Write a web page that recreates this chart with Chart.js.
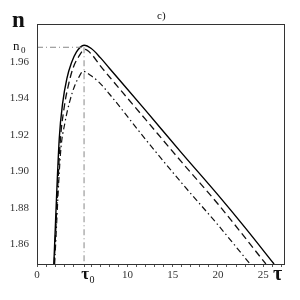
<!DOCTYPE html>
<html>
<head>
  <title>n(tau)</title>
  <script src="https://cdn.jsdelivr.net/npm/chart.js@4"></script>
  <style>
    body{margin:0;background:#fff}
  </style>
</head>
<body>
<canvas id="chart" width="300" height="300"></canvas>

<script>
// values
var tau0 = 5.2, n0 = 1.9682
var solidTau = [1.86,2.46,2.85,3.3,3.8,4.35,5.2,6.0,7.0,8.0,12,16,20,23,26.2]
var solidN   = [1.849,1.918,1.938,1.951,1.9595,1.9655,1.9693,1.9675,1.9625,1.9567,1.9335,1.910,1.887,1.869,1.849]
var dashTau  = [1.9,2.55,3.0,3.5,4.0,4.6,5.3,6.0,7.0,8.0,12,16,20,25.3]
var dashN    = [1.849,1.915,1.935,1.948,1.957,1.963,1.967,1.9645,1.958,1.952,1.9285,1.905,1.882,1.849]
var dotTau   = [1.95,2.6,3.1,3.65,4.2,4.6,5.1,5.9,6.8,8,12,16,20,23.55]
var dotN     = [1.849,1.910,1.927,1.939,1.9475,1.9515,1.955,1.9528,1.9492,1.9425,1.9175,1.8935,1.8705,1.849]
var yTicks = [1.86,1.88,1.90,1.92,1.94,1.96]
var xLabels = [0,10,15,20,25]
var xMin = 0, xMax = 27.3, yMin = 1.849, yMax = 1.981

function pts(xs, ys){
  var out = []
  for(i=0;i<xs.length;i++){ out.push({x:xs[i], y:ys[i]}) }
  return out
}

var serif = "'Liberation Serif', 'DejaVu Serif', serif"

// draws box, subscripted labels, axis names and panel letter
var extras = {
  id: "extras",
  afterDraw: function(chart){
    var ctx = chart.ctx, a = chart.chartArea
    var xs = chart.scales.x, ys = chart.scales.y
    ctx.save()
    ctx.strokeStyle = "#333"
    ctx.lineWidth = 1
    ctx.strokeRect(a.left+0.5, a.top+0.5, a.right-a.left, a.bottom-a.top)
    ctx.fillStyle = "#111"
    ctx.textBaseline = "alphabetic"
    // n0 on y axis
    var yy = ys.getPixelForValue(n0)
    ctx.font = "13px " + serif
    ctx.textAlign = "left"
    ctx.fillText("n", 13, yy+3)
    ctx.font = "9px " + serif
    ctx.fillText("0", 21, yy+6)
    // tau0 on x axis
    var xx = xs.getPixelForValue(tau0)
    ctx.font = "bold 17px " + serif
    ctx.textAlign = "center"
    ctx.fillText("\u03c4", xx+1, a.bottom+15)
    ctx.font = "10px " + serif
    ctx.fillText("0", xx+8, a.bottom+19)
    // axis names
    ctx.font = "bold 23px " + serif
    ctx.textAlign = "left"
    ctx.fillText("n", 12, 27)
    ctx.font = "bold 20px " + serif
    ctx.fillText("\u03c4", 273, a.bottom+16)
    // panel letter
    ctx.font = "11px " + serif
    ctx.fillText("c)", 157, 19)
    ctx.restore()
  }
}

var guide = {borderColor:"#888", borderWidth:1, borderDash:[6,3,1,3], pointRadius:0, tension:0}

var chart = new Chart(document.getElementById("chart").getContext("2d"), {
  type: "line",
  data: {
    datasets: [
      Object.assign({data: [{x:xMin,y:n0},{x:tau0,y:n0}]}, guide),
      Object.assign({data: [{x:tau0,y:n0},{x:tau0,y:yMin}]}, guide),
      {data: pts(solidTau, solidN), borderColor:"#000", borderWidth:1.4, pointRadius:0, cubicInterpolationMode:"monotone"},
      {data: pts(dashTau, dashN), borderColor:"#111", borderWidth:1.3, borderDash:[7,4], pointRadius:0, cubicInterpolationMode:"monotone"},
      {data: pts(dotTau, dotN), borderColor:"#111", borderWidth:1.2, borderDash:[6,3,1.5,3], pointRadius:0, cubicInterpolationMode:"monotone"}
    ]
  },
  options: {
    responsive: false,
    animation: false,
    parsing: false,
    layout: {padding: {top:24, right:16, left:0, bottom:0}},
    plugins: {legend:{display:false}, tooltip:{enabled:false}},
    scales: {
      x: {
        type: "linear", min: xMin, max: xMax,
        border: {display:false},
        grid: {drawOnChartArea:false, tickLength:3, color:"#555"},
        afterBuildTicks: function(s){
          var t = []
          for(k=0;k<=27;k++){ if(k!=5) t.push({value:k}) }
          t.push({value:tau0})
          s.ticks = t
        },
        afterFit: function(s){ s.height = 36 },
        ticks: {
          autoSkip:false, maxRotation:0, padding:2, color:"#333",
          font:{family:serif, size:11},
          callback: function(v){ return xLabels.indexOf(v) >= 0 ? String(v) : "" }
        }
      },
      y: {
        type: "linear", min: yMin, max: yMax,
        border: {display:false},
        grid: {drawOnChartArea:false, tickLength:0},
        afterBuildTicks: function(s){
          var t = []
          for(k=0;k<yTicks.length;k++){ t.push({value:yTicks[k]}) }
          t.push({value:n0})
          s.ticks = t
        },
        afterFit: function(s){ s.width = 37 },
        ticks: {
          autoSkip:false, padding:8, color:"#333",
          font:{family:serif, size:11},
          callback: function(v){ return v == n0 ? "" : v.toFixed(2) }
        }
      }
    }
  },
  plugins: [extras]
})
</script>
</body>
</html>
